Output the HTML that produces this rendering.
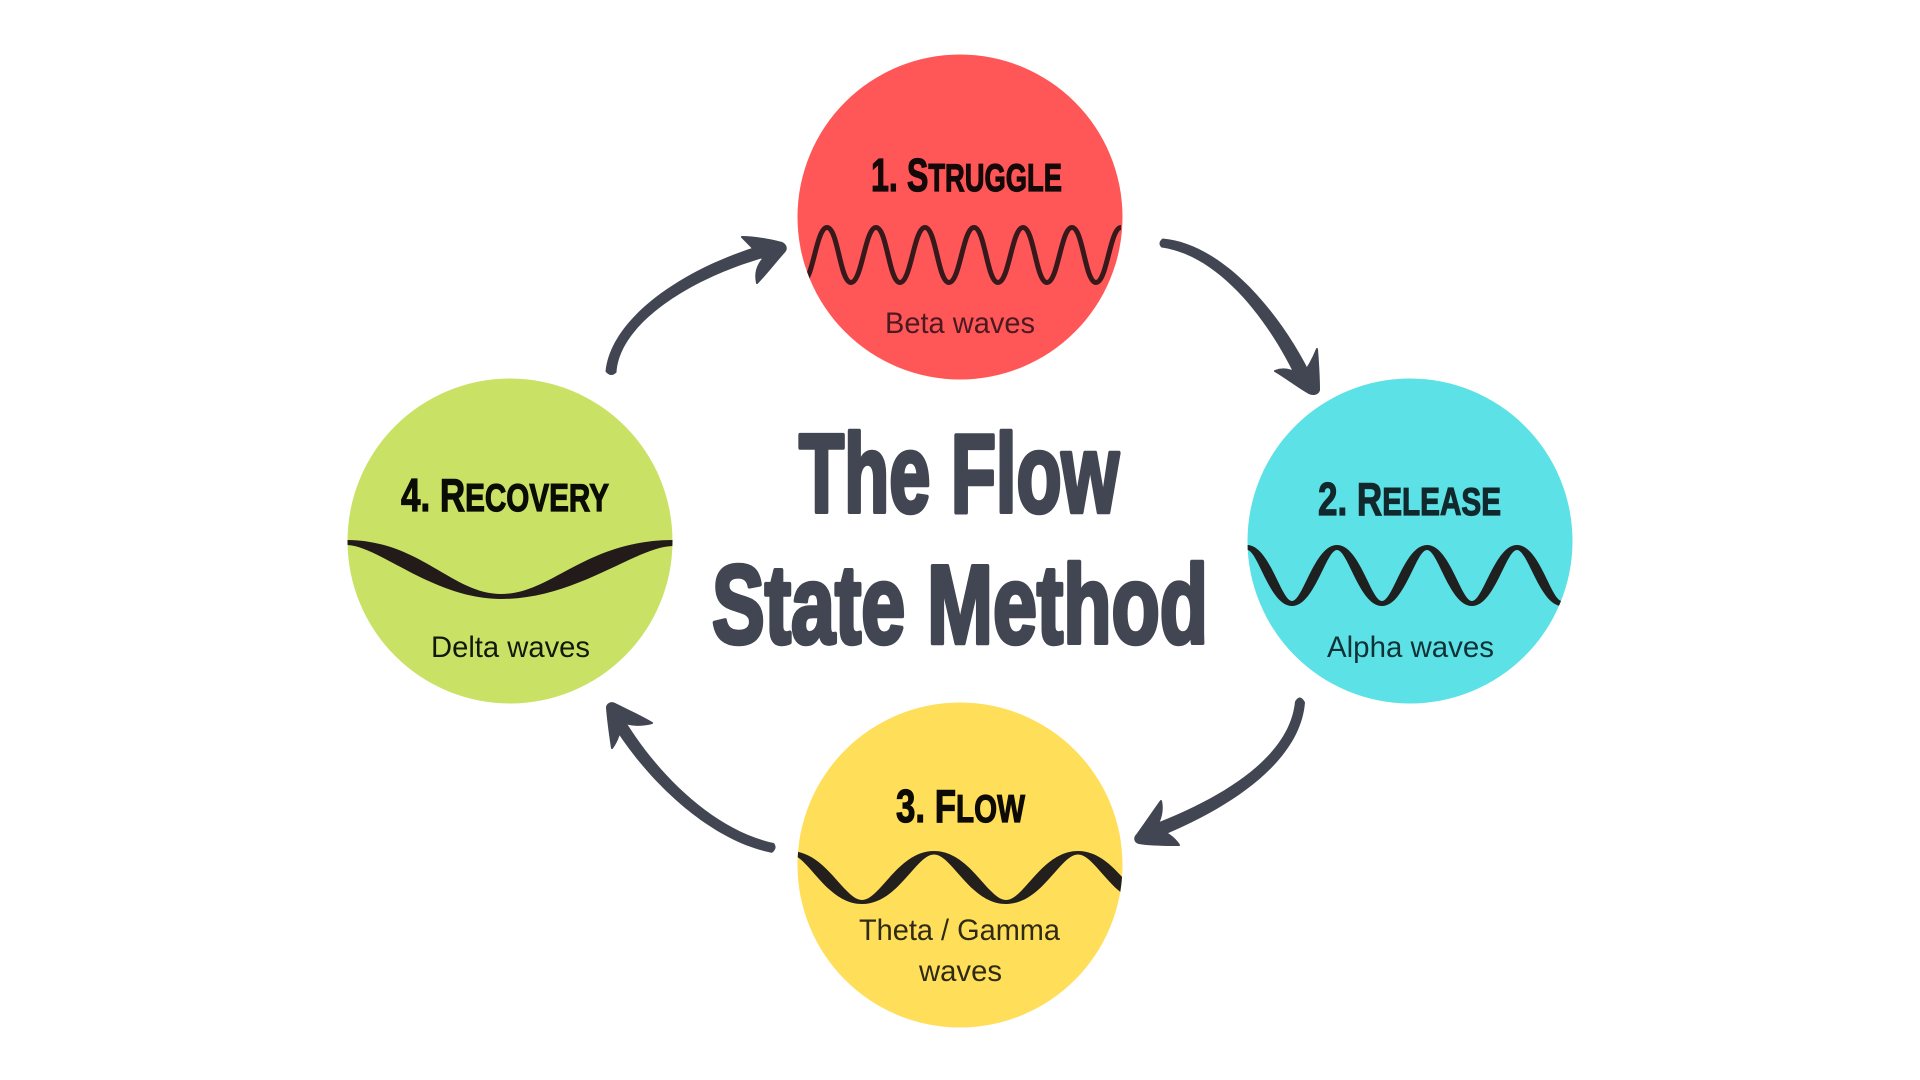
<!DOCTYPE html>
<html><head><meta charset="utf-8"><style>
html,body{margin:0;padding:0;background:#fff;width:1920px;height:1080px;overflow:hidden}
svg{display:block}
text{font-family:"Liberation Sans",sans-serif}
.t{font-weight:700;font-size:111px;fill:#414652;stroke:#414652;stroke-width:4.5px;stroke-linejoin:round;text-anchor:start}
.h{font-weight:700;font-size:46px;stroke-width:1.2px}
.h tspan{font-size:39px}
.h tspan.b{font-size:46px}
.l{font-size:30px}
.ah{fill:#414652;stroke:#414652;stroke-width:2;stroke-linejoin:round}
.sh{fill:#414652}
</style></head><body>
<svg width="1920" height="1080" viewBox="0 0 1920 1080" xmlns="http://www.w3.org/2000/svg">
<defs>
<clipPath id="c1"><circle cx="960" cy="217" r="162.5"/></clipPath>
<clipPath id="c2"><circle cx="1410" cy="541" r="162.5"/></clipPath>
<clipPath id="c3"><circle cx="960" cy="865" r="162.5"/></clipPath>
<clipPath id="c4"><circle cx="510" cy="541" r="162.5"/></clipPath>
</defs>
<rect width="1920" height="1080" fill="#fff"/>

<circle cx="960" cy="217" r="162.5" fill="#FF5757"/>
<circle cx="1410" cy="541" r="162.5" fill="#5CE1E6"/>
<circle cx="960" cy="865" r="162.5" fill="#FFDE59"/>
<circle cx="510" cy="541" r="162.5" fill="#C9E265"/>

<g clip-path="url(#c1)">
<path fill="none" stroke="#37191c" stroke-width="5" d="M778,227.5 C789,227.5 791,282.5 802,282.5 C813,282.5 816,227.5 827,227.5 C838,227.5 840,282.5 851,282.5 C862,282.5 865,227.5 876,227.5 C887,227.5 889,282.5 900,282.5 C911,282.5 914,227.5 925,227.5 C936,227.5 938,282.5 949,282.5 C960,282.5 963,227.5 974,227.5 C985,227.5 987,282.5 998,282.5 C1009,282.5 1012,227.5 1023,227.5 C1034,227.5 1036,282.5 1047,282.5 C1058,282.5 1061,227.5 1072,227.5 C1083,227.5 1085,282.5 1096,282.5 C1107,282.5 1110,227.5 1121,227.5"/>
</g>
<g clip-path="url(#c2)">
<path fill="#1f2020" d="M1247,545 C1269.5,545 1281,601 1292,601 C1303,601 1314.5,545 1337,545 C1359.5,545 1371,601 1382,601 C1393,601 1404.5,545 1427,545 C1449.5,545 1461,601 1472,601 C1483,601 1495,545 1517,545 C1539.5,545 1551,601 1562,601 L1562,606 C1540,606 1528,550 1517,550 C1506,550 1494.5,606 1472,606 C1449.5,606 1438,550 1427,550 C1416,550 1404.5,606 1382,606 C1359.5,606 1348,550 1337,550 C1326,550 1314.5,606 1292,606 C1269.5,606 1258,550 1247,550 Z"/>
</g>
<g clip-path="url(#c3)">
<path fill="#231f1c" d="M790,851 C826,851 844,900 862,900 C880,900 898,851 934,851 C970,851 988,900 1006,900 C1024,900 1042,851 1078,851 C1114,851 1132,900 1150,900 L1150,904 C1114,904 1096,854.5 1078,854.5 C1060,854.5 1042,904 1006,904 C970,904 952,854.5 934,854.5 C916,854.5 898,904 862,904 C826,904 808,854.5 790,854.5 Z"/>
</g>
<g clip-path="url(#c4)">
<path fill="#231a1a" d="M346,540 C420,540 452,594 501,594 C552,594 585,540 674,540 L674,546 C636,546 578,599 501,599 C433,599 378,545 346,545 Z"/>
</g>

<text class="t" x="799" y="512" textLength="320" lengthAdjust="spacingAndGlyphs">The Flow</text>
<text class="t" x="712" y="643" textLength="496" lengthAdjust="spacingAndGlyphs">State Method</text>

<text class="h" x="871" y="191" textLength="191" lengthAdjust="spacingAndGlyphs" fill="#140808" stroke="#140808"><tspan class="b">1. S</tspan><tspan>TRUGGLE</tspan></text>
<text class="h" x="1318" y="515" textLength="183" lengthAdjust="spacingAndGlyphs" fill="#11292c" stroke="#11292c"><tspan class="b">2. R</tspan><tspan>ELEASE</tspan></text>
<text class="h" x="896" y="822" textLength="129" lengthAdjust="spacingAndGlyphs" fill="#0d0b04" stroke="#0d0b04"><tspan class="b">3. F</tspan><tspan>LOW</tspan></text>
<text class="h" x="401" y="511" textLength="208" lengthAdjust="spacingAndGlyphs" fill="#0b0d04" stroke="#0b0d04"><tspan class="b">4. R</tspan><tspan>ECOVERY</tspan></text>

<text class="l" x="885" y="333" textLength="150" lengthAdjust="spacingAndGlyphs" fill="#4a1a20">Beta waves</text>
<text class="l" x="1327" y="657" textLength="167" lengthAdjust="spacingAndGlyphs" fill="#103236">Alpha waves</text>
<text class="l" x="859" y="940" textLength="201" lengthAdjust="spacingAndGlyphs" fill="#2f2a14">Theta / Gamma</text>
<text class="l" x="919" y="981" textLength="83" lengthAdjust="spacingAndGlyphs" fill="#2f2a14">waves</text>
<text class="l" x="431" y="657" textLength="159" lengthAdjust="spacingAndGlyphs" fill="#14180a">Delta waves</text>

<!-- arrow 1 -->
<path class="sh" d="M1162.5,238.5 C1227,244 1286,321.5 1312.8,378.9 L1299.2,385.1 C1274,328.5 1223,256 1161.5,247.5 Q1157,243 1162.5,238.5 Z"/>
<path class="ah" d="M1317,349 C1318,362 1319,378 1319,390 C1318,394 1313,395 1309,393 C1298,387 1287,378 1275,371 C1283,368 1291,369 1302,376 C1308,368 1313,359 1317,349 Z"/>
<!-- arrow 2 -->
<path class="sh" d="M1305,702.4 C1300.4,762.4 1228.6,810.4 1147.5,841.6 L1142.5,828.4 C1221.4,799.6 1289.6,757.6 1295,701.6 Q1300,693 1305,702.4 Z"/>
<path class="ah" d="M1161,801 C1163,810 1161,820 1155,828 C1165,832 1173,836 1179,845 C1165,845 1150,845 1139,843 C1135,842 1134,838 1137,835 C1145,824 1153,812 1161,801 Z"/>
<!-- arrow 3 -->
<path class="sh" d="M772,852.9 C707.8,840 645.8,779.2 610.4,721.3 L621.6,714.7 C654.2,770.8 712.2,830 774,843.1 Q778,848 772,852.9 Z"/>
<path class="ah" d="M652,723 C640,726 630,725 622,722 C620,731 618,740 612,748 C610,735 608,720 607,708 C607,704 611,702 615,704 C627,710 640,716 652,723 Z"/>
<!-- arrow 4 -->
<path class="sh" d="M605.5,371.6 C610.6,316.7 687.3,264.6 773.4,241.7 L776.6,254.3 C692.7,275.4 619.4,323.3 616.5,372.4 Q611,378 605.5,371.6 Z"/>
<path class="ah" d="M742,237 C755,237 770,240 782,243 C786,245 787,249 784,252 C775,262 766,274 757,283 C755,274 757,266 763,259 C755,250 748,243 742,237 Z"/>
</svg>
</body></html>
